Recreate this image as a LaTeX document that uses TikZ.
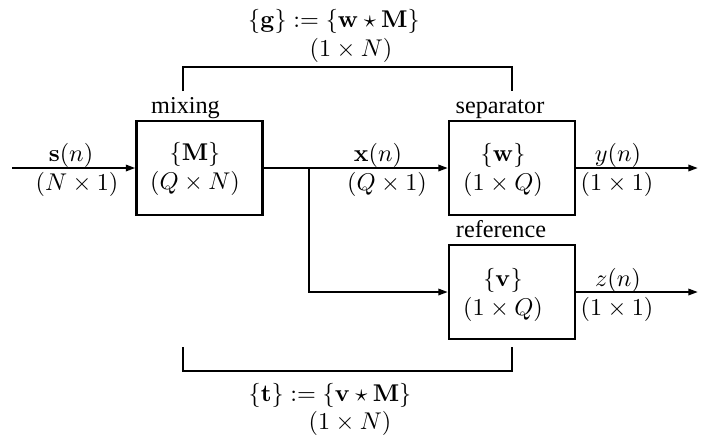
\documentclass[tikz,border=0pt]{standalone}
\usepackage[no-math]{fontspec}
\setmainfont{Liberation Serif}
\usetikzlibrary{arrows.meta}

\begin{document}
\begin{tikzpicture}[
      x=0.413pt, y=-0.413pt,
      blk/.style={rectangle, draw, line width=0.9pt, minimum width=52pt, minimum height=38.8pt},
      txt/.style={align=center, inner sep=0pt},
      ttl/.style={anchor=base, inner sep=0pt},
      lbl/.style={inner sep=0pt},
      wire/.style={line width=0.9pt},
      arr/.style={wire, -{Triangle[length=4pt, width=2.6pt]}}
    ]
    \useasboundingbox (0,0) rectangle (706,439);

    % blocks
    \node[blk] (mix) at (199.5,168) {};
    \node[blk] (sep) at (512,168) {};
    \node[blk] (ref) at (512,292) {};
    \node[txt] (mixT) at (195,169) {$\{\mathbf{M}\}$\\$(Q\times N)$};
    \node[txt] (sepT) at (503,170) {$\{\mathbf{w}\}$\\$(1\times Q)$};
    \node[txt] (refT) at (503,295) {$\{\mathbf{v}\}$\\$(1\times Q)$};
    \node[ttl] (mixL) at (185.5,113) {mixing};
    \node[ttl] (sepL) at (500,113) {separator};
    \node[ttl] (refL) at (501,237) {reference};

    % signals
    \coordinate (src) at (12,168);
    \coordinate (br) at (309,168);
    \coordinate (yo) at (698,168);
    \coordinate (zo) at (698,292);
    \draw[arr] (src) -- (mix);
    \draw[wire] (mix) -- (br);
    \draw[arr] (br) -- (sep);
    \draw[arr] (br) |- (ref);
    \draw[arr] (sep) -- (yo);
    \draw[arr] (ref) -- (zo);

    \node[lbl] (sIn) at (71,155) {$\mathbf{s}(n)$};
    \node[lbl] (sDim) at (77,184) {$(N\times 1)$};
    \node[lbl] (xIn) at (378,155) {$\mathbf{x}(n)$};
    \node[lbl] (xDim) at (387,184) {$(Q\times 1)$};
    \node[lbl] (yOut) at (618,155) {$y(n)$};
    \node[lbl] (yDim) at (617,184) {$(1\times 1)$};
    \node[lbl] (zOut) at (618,280) {$z(n)$};
    \node[lbl] (zDim) at (617,309) {$(1\times 1)$};

    % combined systems
    \coordinate (g1) at (183,91);
    \coordinate (g2) at (512,91);
    \coordinate (t1) at (183,347);
    \coordinate (t2) at (512,347);
    \draw[wire] (g1) -- ++(0,-24) -| (g2);
    \draw[wire] (t1) -- ++(0,24) -| (t2);
    \node[lbl] (gEq) at (334,21) {$\{\mathbf{g}\} := \{\mathbf{w}\star\mathbf{M}\}$};
    \node[lbl] (gDim) at (351,50) {$(1\times N)$};
    \node[lbl] (tEq) at (330,395) {$\{\mathbf{t}\} := \{\mathbf{v}\star\mathbf{M}\}$};
    \node[lbl] (tDim) at (350,423) {$(1\times N)$};
  \end{tikzpicture}
\end{document}
